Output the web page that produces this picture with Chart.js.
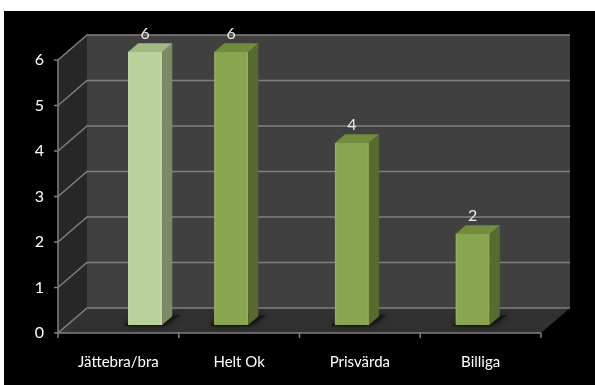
<!DOCTYPE html>
<html>
<head>
<meta charset="utf-8">
<script src="https://cdn.jsdelivr.net/npm/chart.js@4/dist/chart.umd.min.js"></script>
<style>
  html, body { margin: 0; padding: 0; background: #ffffff; }
  #wrap { width: 595px; height: 385px; }
</style>
</head>
<body>
<div id="wrap"><canvas id="c" width="595" height="385"></canvas></div>
<script>
// Survey answers
const categories = ['Jättebra/bra', 'Helt Ok', 'Prisvärda', 'Billiga'];
const answers = [6, 6, 4, 2];
const yTickValues = [0, 1, 2, 3, 4, 5, 6];

// 3D look
const wallDepth = { dx: 29, dy: -25 };      // offset from front plane to back wall
const barPlane = 0.32;                        // bar front face, as share of the depth
const barDepth = 0.35;                        // bar thickness, as share of the depth
const barWidthShare = 0.282;                  // front face width / category width
const barNudge = [0.08, -0.207, -0.207, -0.207]; // front-left edge vs. category centre
const barColors = [
  { front: '#b9d19a', edge: '#c4d9a8', side: '#7b8b63', top: '#a3b983' },
  { front: '#8aa54f', edge: '#96b15b', side: '#586b2f', top: '#718c3d' },
  { front: '#8aa54f', edge: '#96b15b', side: '#586b2f', top: '#718c3d' },
  { front: '#8aa54f', edge: '#96b15b', side: '#586b2f', top: '#718c3d' }
];
const FONT = 'Lato, "Open Sans", sans-serif';

const frame = {
  id: 'frame',
  beforeDraw(chart) {
    const ctx = chart.ctx;
    ctx.save();
    ctx.fillStyle = '#ffffff';
    ctx.fillRect(0, 0, chart.width, chart.height);
    ctx.fillStyle = '#000000';
    ctx.fillRect(4, 11, chart.width - 4, chart.height - 11);
    ctx.restore();
  }
};

function line(ctx, pts) {
  ctx.beginPath();
  ctx.moveTo(pts[0][0], pts[0][1]);
  for (let i = 1; i < pts.length; i++) ctx.lineTo(pts[i][0], pts[i][1]);
  ctx.stroke();
}
function poly(ctx, pts, fill) {
  ctx.beginPath();
  ctx.moveTo(pts[0][0], pts[0][1]);
  for (let i = 1; i < pts.length; i++) ctx.lineTo(pts[i][0], pts[i][1]);
  ctx.closePath();
  ctx.fillStyle = fill;
  ctx.fill();
}

const walls = {
  id: 'walls',
  beforeDatasetsDraw(chart) {
    const ctx = chart.ctx;
    const x = chart.scales.x, y = chart.scales.y;
    const L = x.left, R = x.right;
    const yTop = y.getPixelForValue(6), yBot = y.getPixelForValue(0);
    const dx = wallDepth.dx, dy = wallDepth.dy;
    ctx.save();
    // side wall, back wall, floor
    poly(ctx, [[L, yTop], [L + dx, yTop + dy], [L + dx, yBot + dy], [L, yBot]], '#272727');
    poly(ctx, [[L + dx, yTop + dy], [R + dx, yTop + dy], [R + dx, yBot + dy], [L + dx, yBot + dy]], '#404040');
    poly(ctx, [[L, yBot], [L + dx, yBot + dy], [R + dx, yBot + dy], [R, yBot]], '#313131');

    ctx.strokeStyle = '#808080';
    ctx.lineWidth = 1.5;
    yTickValues.forEach(v => {
      const py = y.getPixelForValue(v);
      line(ctx, [[L, py], [L + dx, py + dy], [R + dx, py + dy]]);
      line(ctx, [[L - 4, py], [L, py]]);
    });
    // value axis and category axis
    line(ctx, [[L, yTop], [L, yBot]]);
    line(ctx, [[L, yBot], [R, yBot]]);
    const w = (R - L) / categories.length;
    for (let i = 0; i <= categories.length; i++) {
      line(ctx, [[L + i * w, yBot], [L + i * w, yBot + 5]]);
    }
    ctx.restore();
  },
  afterDatasetsDraw(chart) {
    const ctx = chart.ctx;
    const x = chart.scales.x, y = chart.scales.y;
    const w = (x.right - x.left) / categories.length;
    const ox = wallDepth.dx * barPlane, oy = wallDepth.dy * barPlane;
    const bdx = wallDepth.dx * barDepth, bdy = wallDepth.dy * barDepth;
    const bw = w * barWidthShare;
    ctx.save();
    answers.forEach((v, i) => {
      const c = barColors[i];
      const xl = x.getPixelForValue(i) + barNudge[i] * w;
      const xr = xl + bw;
      const yt = y.getPixelForValue(v) + oy;
      const yb = y.getPixelForValue(0) + oy;

      // soft shadow on the floor
      ctx.save();
      ctx.shadowColor = 'rgba(0,0,0,0.75)';
      ctx.shadowBlur = 7;
      poly(ctx, [[xl - 4, yb + 1], [xr + 2, yb + 1], [xr + bdx + 8, yb + bdy - 1], [xl + bdx - 4, yb + bdy - 1]], 'rgba(20,20,20,0.8)');
      ctx.restore();

      // front face with light bevel at the edges
      const g = ctx.createLinearGradient(xl, 0, xr, 0);
      g.addColorStop(0, c.edge);
      g.addColorStop(0.08, c.front);
      g.addColorStop(0.92, c.front);
      g.addColorStop(1, c.edge);
      ctx.fillStyle = g;
      ctx.fillRect(xl, yt, bw, yb - yt);
      // side face
      poly(ctx, [[xr, yt], [xr + bdx, yt + bdy], [xr + bdx, yb + bdy], [xr, yb]], c.side);
      // top face
      poly(ctx, [[xl, yt], [xr, yt], [xr + bdx, yt + bdy], [xl + bdx, yt + bdy]], c.top);

      // value label
      ctx.fillStyle = '#ececec';
      ctx.font = '16px ' + FONT;
      ctx.textAlign = 'center';
      ctx.textBaseline = 'middle';
      ctx.fillText(String(v), (xl + xr) / 2, yt - 18);
    });
    ctx.restore();
  }
};

new Chart(document.getElementById('c'), {
  type: 'bar',
  data: {
    labels: categories,
    datasets: [{
      data: answers,
      backgroundColor: 'rgba(0,0,0,0)',
      borderWidth: 0
    }]
  },
  options: {
    responsive: false,
    animation: false,
    layout: { padding: { left: 4, top: 60, right: 54, bottom: 12 } },
    plugins: { legend: { display: false }, tooltip: { enabled: false } },
    scales: {
      x: {
        grid: { display: false, drawTicks: false },
        border: { display: false },
        ticks: { color: '#ffffff', font: { family: FONT, size: 15 }, padding: 20, maxRotation: 0 },
        afterFit(scale) { scale.height = 40; }
      },
      y: {
        min: 0, max: 6,
        grid: { display: false, drawTicks: false },
        border: { display: false },
        ticks: { stepSize: 1, color: '#ffffff', font: { family: FONT, size: 16 }, padding: 14 },
        afterFit(scale) { scale.width = 54; }
      }
    }
  },
  plugins: [frame, walls]
});
</script>
</body>
</html>
